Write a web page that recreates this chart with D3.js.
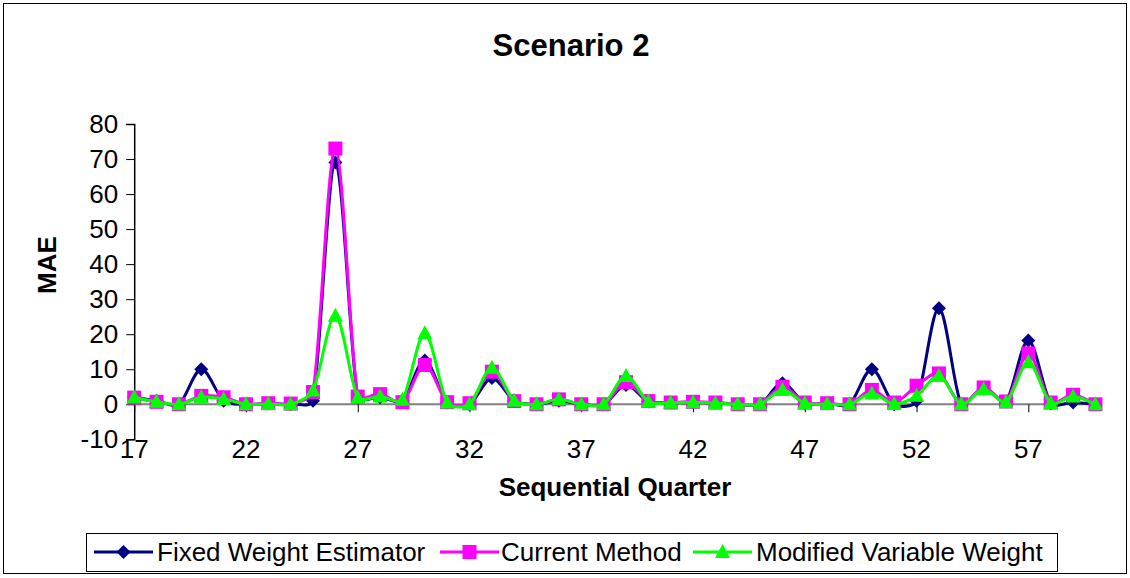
<!DOCTYPE html>
<html lang="en">
<head>
<meta charset="UTF-8">
<title>Scenario 2</title>
<script src="https://d3js.org/d3.v7.min.js"></script>
<style>
  body { margin: 0; background: #fff; }
  text { font-family: Arial, "Liberation Sans", sans-serif; }
</style>
</head>
<body>
<svg width="1130" height="578"></svg>
<script>
// sequential quarters on the x axis
const quarters = [17, 18, 19, 20, 21, 22, 23, 24, 25, 26, 27, 28, 29, 30, 31, 32, 33, 34, 35, 36, 37, 38,
                  39, 40, 41, 42, 43, 44, 45, 46, 47, 48, 49, 50, 51, 52, 53, 54, 55, 56, 57, 58, 59, 60];
const fixedWeight = [2, 1, 0, 10, 1, 0, 0.2, 0, 1, 69, 2, 2, 1, 12.5, 0.5, 0, 7.5, 1, 0, 1, 0, 0,
                     5.5, 0.8, 0.5, 0.6, 0.4, 0, 0, 6, 0.3, 0.3, 0, 10, 0, 1, 27.4, 0, 4.5, 0.8, 18.2, 0.3, 0.5, 0];
const currentMethod = [1.9, 0.7, 0, 2.4, 2, 0, 0.3, 0.2, 3.5, 73, 2.2, 2.9, 0.6, 11.2, 0.6, 0.3, 9.3, 0.9, 0, 1.4, 0, 0,
                       6.3, 0.9, 0.5, 0.7, 0.5, 0, 0, 5, 0.5, 0.3, 0, 4.1, 0.5, 5.3, 8.8, 0, 4.8, 0.8, 14.5, 0.5, 2.7, 0];
const modifiedWeight = [2, 0.7, 0, 2, 1.5, 0, 0.1, 0, 3.9, 25.3, 1.9, 2.2, 1.3, 20.3, 0.5, 0, 10.4, 1, 0, 1.4, 0, 0,
                        8.1, 0.7, 0.4, 0.6, 0.3, 0, 0, 4.1, 0.3, 0.1, 0, 3.1, 0.1, 2.4, 8.1, 0, 4.3, 0.6, 12, 0.3, 2.2, 0];
const xTicks = [17, 22, 27, 32, 37, 42, 47, 52, 57];
const yTicks = [-10, 0, 10, 20, 30, 40, 50, 60, 70, 80];

const seriesNames = ["Fixed Weight Estimator", "Current Method", "Modified Variable Weight"];
const seriesColors = ["#000080", "#FF00FF", "#00FF00"];
const seriesValues = [fixedWeight, currentMethod, modifiedWeight];

// excel-ish markers: fat diamond, square, triangle
const diamond = { draw: function(ctx, size) { var r = 7; ctx.moveTo(0, -r); ctx.lineTo(r, 0); ctx.lineTo(0, r); ctx.lineTo(-r, 0); ctx.closePath(); } };
const square = { draw: function(ctx, size) { var r = 7; ctx.rect(-r, -r, 2 * r, 2 * r); } };
const triangle = { draw: function(ctx, size) { ctx.moveTo(0, -8); ctx.lineTo(7.5, 6); ctx.lineTo(-7.5, 6); ctx.closePath(); } };
const seriesShapes = [diamond, square, triangle];

// smoothed line like excel: catmull-rom tangents, damped next to short segments
function excelSmooth(context) {
  var pts;
  function dist(a, b) { return Math.hypot(b[0] - a[0], b[1] - a[1]); }
  return {
    areaStart: function() {}, areaEnd: function() {},
    lineStart: function() { pts = []; },
    point: function(px, py) { pts.push([px, py]); },
    lineEnd: function() {
      var n = pts.length;
      context.moveTo(pts[0][0], pts[0][1]);
      for (var i = 0; i < n - 1; i++) {
        var p0 = pts[Math.max(i - 1, 0)], p1 = pts[i], p2 = pts[i + 1], p3 = pts[Math.min(i + 2, n - 1)];
        var L = dist(p1, p2), Lp = dist(p0, p1), Ln = dist(p2, p3);
        var f1 = i == 0 ? 1 / 6 : Math.min(1, 2 * L / (Lp + L)) / 6;
        var f2 = i == n - 2 ? 1 / 6 : Math.min(1, 2 * L / (L + Ln)) / 6;
        context.bezierCurveTo(
          p1[0] + (p2[0] - p0[0]) * f1, p1[1] + (p2[1] - p0[1]) * f1,
          p2[0] - (p3[0] - p1[0]) * f2, p2[1] - (p3[1] - p1[1]) * f2,
          p2[0], p2[1]);
      }
    }
  };
}

const svg = d3.select("svg");

// outer frame
svg.append("rect")
  .attr("x", 3.5).attr("y", 3.5).attr("width", 1123).attr("height", 570)
  .attr("fill", "#fff").attr("stroke", "#000").attr("stroke-width", 1);

var x = d3.scaleLinear().domain([17, 60]).range([134.2, 1095.4]);
var y = d3.scaleLinear().domain([-10, 80]).range([439.3, 124]);

svg.append("text")
  .attr("x", 571).attr("y", 56)
  .attr("text-anchor", "middle")
  .style("font-size", "31px").style("font-weight", "bold")
  .text("Scenario 2");

// y axis
var yAxis = svg.append("g")
  .attr("transform", "translate(" + x(17) + ",0)")
  .call(d3.axisLeft(y).tickValues(yTicks).tickSize(8).tickPadding(8).tickFormat(d => String(d)));
yAxis.select(".domain").attr("stroke", "#000").attr("stroke-width", 1.5);
yAxis.selectAll(".tick line").attr("stroke", "#000");
yAxis.selectAll("text").style("font-size", "26px").attr("fill", "#000");

// x axis sits on zero, labels at the bottom
var xAxis = svg.append("g")
  .attr("transform", "translate(0," + y(0) + ")")
  .call(d3.axisBottom(x).tickValues(xTicks).tickSize(8).tickFormat(""));
xAxis.select(".domain").attr("d", "M" + x(17) + ",0H1101").attr("stroke", "#808080").attr("stroke-width", 2);
xAxis.selectAll(".tick line").attr("stroke", "#000");

svg.append("g")
  .selectAll("text")
  .data(xTicks)
  .enter()
  .append("text")
  .attr("x", d => x(d))
  .attr("y", 458)
  .attr("text-anchor", "middle")
  .style("font-size", "26px")
  .text(d => d);

svg.append("text")
  .attr("transform", "translate(56," + 265 + ") rotate(-90)")
  .attr("text-anchor", "middle")
  .style("font-size", "26px").style("font-weight", "bold")
  .text("MAE");

svg.append("text")
  .attr("x", 615).attr("y", 496)
  .attr("text-anchor", "middle")
  .style("font-size", "26px").style("font-weight", "bold")
  .text("Sequential Quarter");

// series
var line = d3.line()
  .x((d, i) => x(quarters[i]))
  .y(d => y(d))
  .curve(excelSmooth);

seriesValues.forEach(function(vals, s) {
  var g = svg.append("g");
  g.append("path")
    .attr("d", line(vals))
    .attr("fill", "none")
    .attr("stroke", seriesColors[s])
    .attr("stroke-width", 3);
  g.selectAll("path.pt")
    .data(vals)
    .enter()
    .append("path")
    .attr("class", "pt")
    .attr("transform", (d, i) => "translate(" + x(quarters[i]) + "," + y(d) + ")")
    .attr("d", d3.symbol().type(seriesShapes[s]))
    .attr("fill", seriesColors[s]);
});

// legend
svg.append("rect")
  .attr("x", 86.5).attr("y", 533.5).attr("width", 971).attr("height", 38)
  .attr("fill", "none").attr("stroke", "#000");

const legendLineX = [94, 440, 693];
const legendTextX = [157, 501, 756];
seriesNames.forEach(function(name, s) {
  var lg = svg.append("g");
  lg.append("line")
    .attr("x1", legendLineX[s]).attr("x2", legendLineX[s] + 59)
    .attr("y1", 552).attr("y2", 552)
    .attr("stroke", seriesColors[s]).attr("stroke-width", 3);
  lg.append("path")
    .attr("transform", "translate(" + (legendLineX[s] + 29.5) + ",552)")
    .attr("d", d3.symbol().type(seriesShapes[s]))
    .attr("fill", seriesColors[s]);
  lg.append("text")
    .attr("x", legendTextX[s]).attr("y", 561)
    .style("font-size", "26px")
    .text(name);
});
</script>
</body>
</html>
